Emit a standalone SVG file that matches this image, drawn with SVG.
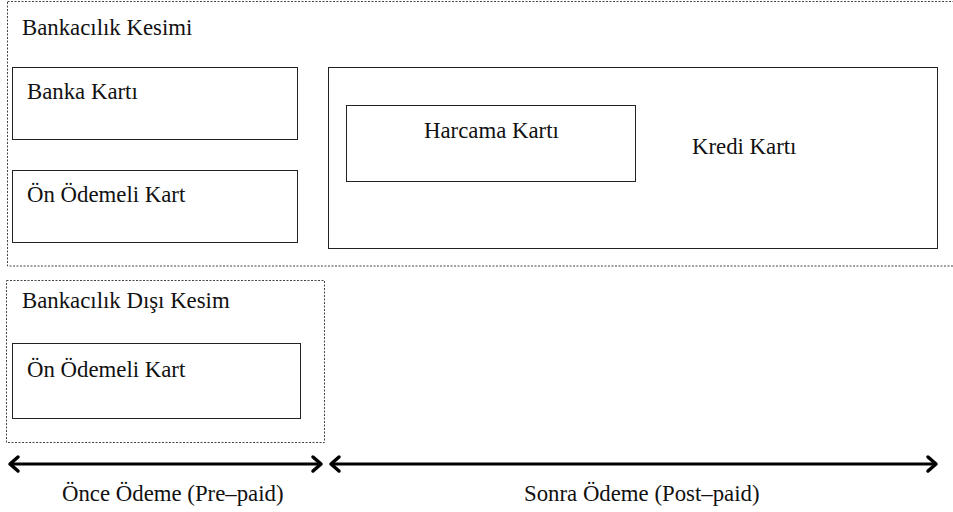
<svg xmlns="http://www.w3.org/2000/svg" width="953" height="512" viewBox="0 0 953 512">
<style>
.t{font-family:"Liberation Serif","Times New Roman",serif;font-size:22.8px;fill:#111}
.solid{fill:#fff;stroke:#222;stroke-width:1}
.dash{fill:none;stroke:#444;stroke-width:1;stroke-dasharray:2,1.5}
.arr{stroke:#000;stroke-width:3;fill:none}
.head{stroke:#000;stroke-width:3.5;fill:none;stroke-linecap:round;stroke-linejoin:round}
</style>
<rect width="953" height="512" fill="#fff"/>
<g id="bankacilik-kesimi">
<rect class="dash" x="7.5" y="1.5" width="960" height="264.5"/>
<text class="t" x="22" y="35">Bankacılık Kesimi</text>
</g>
<g id="banka-karti">
<rect class="solid" x="12.5" y="67.5" width="285" height="72"/>
<text class="t" x="27" y="99">Banka Kartı</text>
</g>
<g id="on-odemeli-kart-1">
<rect class="solid" x="12.5" y="170.5" width="285" height="72"/>
<text class="t" x="27" y="202">Ön Ödemeli Kart</text>
</g>
<g id="kredi-karti">
<rect class="solid" x="328.5" y="67.5" width="609" height="181"/>
<text class="t" x="692" y="154">Kredi Kartı</text>
</g>
<g id="harcama-karti">
<rect class="solid" x="346.5" y="105.5" width="289" height="76"/>
<text class="t" x="424" y="138">Harcama Kartı</text>
</g>
<g id="bankacilik-disi-kesim">
<rect class="dash" x="6.5" y="280.5" width="318" height="162"/>
<text class="t" x="22" y="308">Bankacılık Dışı Kesim</text>
</g>
<g id="on-odemeli-kart-2">
<rect class="solid" x="12.5" y="343.5" width="288" height="75"/>
<text class="t" x="27" y="377">Ön Ödemeli Kart</text>
</g>
<g id="connectors">
<line class="arr" x1="10" y1="464" x2="321" y2="464"/>
<polyline class="head" points="18,457 10,464 18,471"/>
<polyline class="head" points="313,457 321,464 313,471"/>
<line class="arr" x1="331" y1="464" x2="936" y2="464"/>
<polyline class="head" points="339,457 331,464 339,471"/>
<polyline class="head" points="928,457 936,464 928,471"/>
</g>
<text class="t" x="62" y="501">Önce Ödeme (Pre–paid)</text>
<text class="t" x="524" y="501">Sonra Ödeme (Post–paid)</text>
</svg>
